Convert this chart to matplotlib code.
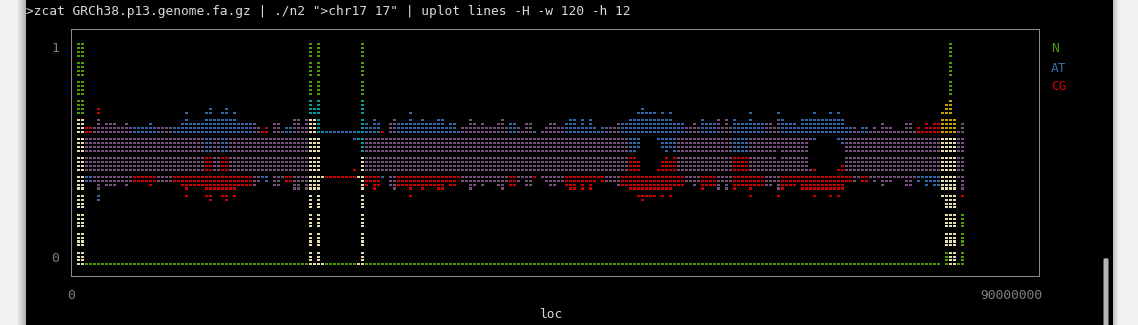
import numpy as np
import matplotlib
matplotlib.use("Agg")
import matplotlib.pyplot as plt
from matplotlib.patches import Rectangle, FancyBboxPatch

# ---------------- data: per x-bin (375 kb) min/max fraction (%) of each series ----------------
header = '>zcat GRCh38.p13.genome.fa.gz | ./n2 ">chr17 17" | uplot lines -H -w 120 -h 12'
series_names = ["N", "AT", "CG"]
x_label = "loc"
x_tick_labels = ["0", "90000000"]
y_tick_labels = ["1", "0"]
bin_size = 375000

at_min = [0, 0, 38, 38, 38, 30, 38, 36, 36, 36,
          38, 38, 36, 38, 43, 43, 43, 43, 43, 43,
          38, 38, 38, 38, 43, 43, 43, 43, 43, 43,
          43, 43, 51, 51, 43, 43, 51, 51, 43, 43,
          43, 43, 43, 43, 36, 38, 40, 38, 43, 36,
          36, 40, 43, 43, 34, 34, 38, 34, 0, 34,
          0, 60, 60, 60, 60, 60, 60, 60, 60, 57,
          57, 0, 43, 43, 43, 43, 40, 43, 36, 34,
          43, 43, 43, 43, 43, 43, 43, 43, 43, 43,
          43, 43, 43, 43, 43, 43, 38, 38, 34, 36,
          38, 36, 38, 38, 38, 36, 34, 38, 43, 43,
          38, 40, 36, 36, 43, 43, 40, 38, 36, 36,
          38, 38, 43, 43, 43, 43, 43, 43, 43, 43,
          43, 43, 38, 38, 38, 43, 43, 43, 51, 51,
          53, 60, 60, 60, 60, 57, 53, 51, 53, 51,
          43, 43, 38, 38, 36, 38, 43, 43, 45, 51,
          34, 38, 34, 38, 51, 51, 51, 51, 51, 43,
          43, 43, 36, 36, 38, 53, 51, 47, 47, 43,
          43, 43, 43, 57, 57, 60, 60, 60, 60, 60,
          57, 55, 43, 43, 38, 43, 43, 43, 40, 38,
          40, 36, 38, 38, 40, 40, 40, 36, 36, 40,
          38, 40, 36, 38, 36, 36, 32, 9, 0, 34,
          40, 34]
at_max = [62, 62, 57, 57, 62, 62, 62, 64, 64, 64,
          62, 62, 64, 62, 62, 62, 62, 62, 64, 62,
          62, 62, 62, 62, 62, 62, 64, 68, 64, 64,
          64, 64, 68, 70, 66, 66, 68, 70, 66, 68,
          64, 64, 64, 64, 64, 62, 57, 57, 57, 64,
          64, 60, 62, 62, 66, 66, 62, 66, 74, 70,
          74, 60, 60, 60, 60, 60, 60, 60, 60, 60,
          60, 74, 64, 62, 66, 64, 57, 57, 64, 66,
          64, 64, 64, 68, 64, 64, 66, 64, 64, 64,
          66, 66, 62, 64, 64, 60, 62, 62, 66, 64,
          62, 64, 62, 62, 62, 64, 66, 62, 64, 64,
          62, 60, 64, 64, 60, 57, 60, 62, 64, 64,
          62, 62, 64, 66, 66, 62, 66, 62, 66, 62,
          60, 62, 62, 62, 62, 64, 64, 64, 66, 66,
          68, 70, 68, 68, 68, 66, 68, 66, 68, 64,
          64, 64, 62, 62, 64, 62, 66, 64, 64, 64,
          66, 62, 66, 62, 66, 64, 64, 64, 68, 64,
          64, 64, 64, 64, 62, 68, 66, 64, 64, 64,
          62, 66, 66, 66, 68, 66, 66, 66, 68, 66,
          68, 66, 62, 62, 62, 60, 62, 62, 60, 62,
          60, 64, 62, 62, 60, 60, 60, 64, 64, 60,
          57, 57, 57, 57, 57, 57, 57, 57, 57, 57,
          60, 64]
cg_min = [0, 0, 43, 43, 38, 38, 38, 36, 36, 36,
          38, 38, 36, 38, 38, 38, 38, 38, 36, 38,
          38, 38, 38, 38, 38, 38, 36, 32, 36, 36,
          36, 36, 32, 30, 34, 34, 32, 30, 34, 32,
          36, 36, 36, 36, 36, 38, 43, 43, 43, 36,
          36, 40, 38, 38, 34, 34, 38, 34, 0, 34,
          0, 40, 40, 40, 40, 40, 40, 40, 40, 40,
          40, 0, 36, 38, 34, 36, 43, 43, 36, 34,
          36, 36, 36, 32, 36, 36, 34, 36, 36, 36,
          34, 34, 38, 36, 36, 40, 38, 38, 34, 36,
          38, 36, 38, 38, 38, 36, 34, 38, 36, 36,
          38, 40, 36, 36, 40, 43, 40, 38, 36, 36,
          38, 38, 36, 34, 34, 38, 34, 38, 34, 38,
          40, 38, 38, 38, 38, 36, 36, 36, 34, 34,
          32, 30, 32, 32, 32, 34, 32, 34, 32, 36,
          36, 36, 38, 38, 36, 38, 34, 36, 36, 36,
          34, 38, 34, 38, 34, 36, 36, 36, 32, 36,
          36, 36, 36, 36, 38, 32, 34, 36, 36, 36,
          38, 34, 34, 34, 32, 34, 34, 34, 32, 34,
          32, 34, 38, 38, 38, 40, 38, 38, 40, 38,
          40, 36, 38, 38, 40, 40, 40, 36, 36, 40,
          43, 43, 43, 43, 43, 43, 32, 9, 0, 34,
          40, 32]
cg_max = [62, 62, 62, 62, 62, 70, 62, 64, 64, 64,
          62, 62, 64, 62, 57, 57, 57, 57, 57, 57,
          62, 62, 62, 62, 57, 57, 57, 57, 57, 57,
          57, 57, 49, 49, 57, 57, 49, 49, 57, 57,
          57, 57, 57, 57, 64, 62, 60, 62, 57, 64,
          64, 60, 57, 57, 66, 66, 62, 66, 66, 66,
          57, 40, 40, 40, 40, 40, 40, 40, 40, 43,
          40, 49, 57, 57, 57, 57, 60, 57, 64, 66,
          57, 57, 57, 57, 57, 57, 57, 57, 57, 57,
          57, 57, 57, 57, 57, 57, 62, 62, 66, 64,
          62, 64, 62, 62, 62, 64, 66, 62, 57, 57,
          62, 60, 64, 64, 57, 57, 60, 62, 64, 64,
          62, 62, 57, 57, 57, 57, 57, 57, 57, 57,
          57, 57, 62, 62, 62, 57, 57, 57, 49, 49,
          47, 40, 40, 40, 40, 43, 47, 49, 47, 49,
          57, 57, 62, 62, 64, 62, 57, 57, 55, 49,
          66, 62, 66, 62, 49, 49, 49, 49, 49, 57,
          57, 57, 64, 64, 62, 47, 49, 53, 53, 57,
          57, 57, 57, 43, 43, 40, 40, 40, 40, 40,
          43, 45, 57, 57, 62, 57, 57, 57, 60, 62,
          60, 64, 62, 62, 60, 60, 60, 64, 64, 60,
          62, 60, 64, 62, 64, 64, 68, 72, 74, 66,
          60, 64]
n_min = [0, 0, 0, 0, 0, 0, 0, 0, 0, 0,
         0, 0, 0, 0, 0, 0, 0, 0, 0, 0,
         0, 0, 0, 0, 0, 0, 0, 0, 0, 0,
         0, 0, 0, 0, 0, 0, 0, 0, 0, 0,
         0, 0, 0, 0, 0, 0, 0, 0, 0, 0,
         0, 0, 0, 0, 0, 0, 0, 0, 0, 0,
         0, 0, 0, 0, 0, 0, 0, 0, 0, 0,
         0, 0, 0, 0, 0, 0, 0, 0, 0, 0,
         0, 0, 0, 0, 0, 0, 0, 0, 0, 0,
         0, 0, 0, 0, 0, 0, 0, 0, 0, 0,
         0, 0, 0, 0, 0, 0, 0, 0, 0, 0,
         0, 0, 0, 0, 0, 0, 0, 0, 0, 0,
         0, 0, 0, 0, 0, 0, 0, 0, 0, 0,
         0, 0, 0, 0, 0, 0, 0, 0, 0, 0,
         0, 0, 0, 0, 0, 0, 0, 0, 0, 0,
         0, 0, 0, 0, 0, 0, 0, 0, 0, 0,
         0, 0, 0, 0, 0, 0, 0, 0, 0, 0,
         0, 0, 0, 0, 0, 0, 0, 0, 0, 0,
         0, 0, 0, 0, 0, 0, 0, 0, 0, 0,
         0, 0, 0, 0, 0, 0, 0, 0, 0, 0,
         0, 0, 0, 0, 0, 0, 0, 0, 0, 0,
         0, 0, 0, 0, 0, 0, 32, 0, 0, 0,
         0, 0]
n_max = [100, 100, 0, 0, 0, 0, 0, 0, 0, 0,
         0, 0, 0, 0, 0, 0, 0, 0, 0, 0,
         0, 0, 0, 0, 0, 0, 0, 0, 0, 0,
         0, 0, 0, 0, 0, 0, 0, 0, 0, 0,
         0, 0, 0, 0, 0, 0, 0, 0, 0, 0,
         0, 0, 0, 0, 0, 0, 0, 0, 100, 0,
         100, 0, 0, 0, 0, 0, 0, 0, 0, 0,
         0, 100, 0, 0, 0, 0, 0, 0, 0, 0,
         0, 0, 0, 0, 0, 0, 0, 0, 0, 0,
         0, 0, 0, 0, 0, 0, 0, 0, 0, 0,
         0, 0, 0, 0, 0, 0, 0, 0, 0, 0,
         0, 0, 0, 0, 0, 0, 0, 0, 0, 0,
         0, 0, 0, 0, 0, 0, 0, 0, 0, 0,
         0, 0, 0, 0, 0, 0, 0, 0, 0, 0,
         0, 0, 0, 0, 0, 0, 0, 0, 0, 0,
         0, 0, 0, 0, 0, 0, 0, 0, 0, 0,
         0, 0, 0, 0, 0, 0, 0, 0, 0, 0,
         0, 0, 0, 0, 0, 0, 0, 0, 0, 0,
         0, 0, 0, 0, 0, 0, 0, 0, 0, 0,
         0, 0, 0, 0, 0, 0, 0, 0, 0, 0,
         0, 0, 0, 0, 0, 0, 0, 0, 0, 0,
         0, 0, 0, 0, 0, 0, 68, 72, 100, 66,
         0, 23]

# ---------------- style ----------------
W, H = 1138, 325
FONT = "DejaVu Sans Mono"
FS = 9.3
series_bits = {"N": 4, "AT": 1, "CG": 2}
palette = {1: "#3465A4", 2: "#CC0000", 3: "#75507B", 4: "#4E9A06",
           5: "#06989A", 6: "#C4A000", 7: "#E6DDB0"}
label_colors = {"N": "#4E9A06", "AT": "#3465A4", "CG": "#CC0000"}
GRAY = "#7f7f7f"
TXT = "#DADADA"

NL = 47           # braille dot levels (12 rows x 4 dots)
n_bins = len(at_min)
loc = (np.arange(n_bins) + 0.5) * bin_size

ranges = {"N": (n_min, n_max), "AT": (at_min, at_max), "CG": (cg_min, cg_max)}
bits = np.zeros((n_bins, NL + 1), dtype=int)
for name in series_names:
    lo, hi = ranges[name]
    klo = np.rint(np.asarray(lo) / 100 * NL).astype(int)
    khi = np.rint(np.asarray(hi) / 100 * NL).astype(int)
    for i in range(n_bins):
        bits[i, klo[i]:khi[i] + 1] |= series_bits[name]

# per-character-cell colour blending (2 x 4 dots per cell)
n_chars = (n_bins + 1) // 2
cell = np.zeros((n_chars, 12), dtype=int)
for i in range(n_bins):
    for k in range(NL + 1):
        if bits[i, k]:
            cell[i // 2, (NL - k) // 4] |= bits[i, k]

xs, ys, cs = [], [], []
for i in range(n_bins):
    for k in range(NL + 1):
        if bits[i, k]:
            xs.append(loc[i])
            ys.append(k / NL)
            cs.append(palette[cell[i // 2, (NL - k) // 4]])

# vertical scale reproducing braille row gaps
lv = np.arange(NL + 1)
py = 44.3 + 18.95 * ((NL - lv) // 4) + 3.85 * ((NL - lv) % 4)
up = H - py
kv = np.concatenate([[-2.0], lv / NL, [3.0]])
ku = np.concatenate([[up[0] - 2 * 221], up, [up[-1] + 2 * 221]])
def fwd(v):
    return np.interp(v, kv, ku)
def inv(u):
    return np.interp(u, ku, kv)

fig = plt.figure(figsize=(W / 100, H / 100), dpi=100, facecolor="black")

# terminal window decorations
for x in range(0, 26):
    g = 0.95 if x < 17 else 0.95 - (x - 16) * 0.028
    fig.add_artist(Rectangle((x / W, 0), 1 / W, 1, transform=fig.transFigure,
                             facecolor=(g, g, g), edgecolor="none", zorder=0))
for x in range(1113, W):
    g = min(0.95, 0.76 + (x - 1113) * 0.035)
    fig.add_artist(Rectangle((x / W, 0), 1 / W, 1, transform=fig.transFigure,
                             facecolor=(g, g, g), edgecolor="none", zorder=0))
fig.add_artist(FancyBboxPatch((1103.5 / W, -0.05), 5 / W, (H - 258) / H + 0.05,
                              boxstyle="round,pad=0,rounding_size=0.004",
                              transform=fig.transFigure, facecolor="#b5b5b5",
                              edgecolor="none", zorder=1))

ax_l, ax_r, ax_t, ax_b = 71.3, 1039.3, 29.3, 276.0
ax = fig.add_axes([ax_l / W, 1 - ax_b / H, (ax_r - ax_l) / W, (ax_b - ax_t) / H])
ax.set_facecolor("black")
ax.set_yscale("function", functions=(fwd, inv))
ax.set_ylim(inv(H - ax_b), inv(H - ax_t))
px_per_bin = 4.0
first_px = 78.5
ax.set_xlim(((ax_l - first_px) / px_per_bin + 0.5) * bin_size,
            ((ax_r - first_px) / px_per_bin + 0.5) * bin_size)
ax.scatter(xs, ys, c=cs, s=2.1, marker="s", linewidths=0, antialiased=False)
ax.set_xticks([])
ax.set_yticks([])
ax.minorticks_off()
for sp in ax.spines.values():
    sp.set_color("#8a8a8a")
    sp.set_linewidth(0.75)

def ftext(x, y, s, **kw):
    fig.text(x / W, 1 - y / H, s, family=FONT, fontsize=FS, va="center", **kw)

ftext(26, 11, header, color=TXT, ha="left")
ftext(55, 49, y_tick_labels[0], color=GRAY, ha="center")
ftext(55, 258, y_tick_labels[1], color=GRAY, ha="center")
ftext(71, 295.5, x_tick_labels[0], color=GRAY, ha="center")
ftext(1042, 295.5, x_tick_labels[1], color=GRAY, ha="right")
ftext(551.5, 314.5, x_label, color=TXT, ha="center")
for j, name in enumerate(series_names):
    ftext(1051, 49 + 19 * j, name, color=label_colors[name], ha="left")

fig.savefig("out.png", dpi=100, facecolor="black")
